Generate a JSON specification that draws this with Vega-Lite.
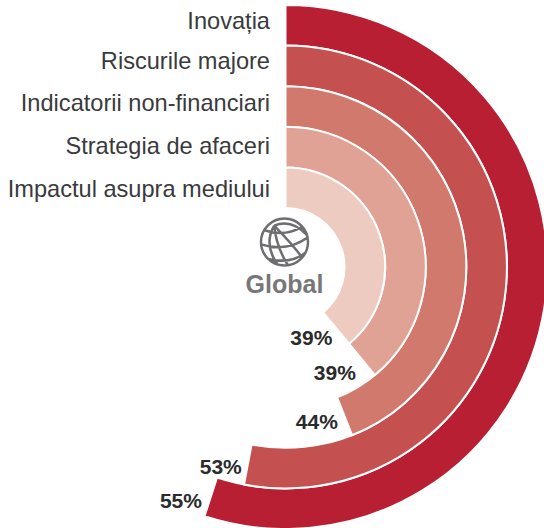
{
"$schema":"https://vega.github.io/schema/vega-lite/v6.json",
"width":544,"height":528,"padding":0,"autosize":{"type":"none"},
"background":"white",
"config":{"view":{"stroke":null}},
"data":{"values":[
{"name":"Inovația","share":55,"ring":5,"ringInner":4,"pctAt":56.7,"pctRing":4.88},
{"name":"Riscurile majore","share":53,"ring":4,"ringInner":3,"pctAt":55,"pctRing":3.75},
{"name":"Indicatorii non-financiari","share":44,"ring":3,"ringInner":2,"pctAt":46.9,"pctRing":2.47},
{"name":"Strategia de afaceri","share":39,"ring":2,"ringInner":1,"pctAt":43.2,"pctRing":1.45},
{"name":"Impactul asupra mediului","share":39,"ring":1,"ringInner":0,"pctAt":44.6,"pctRing":0.42}
]},
"transform":[{"calculate":"datum.share + '%'","as":"pct"}],
"layer":[
{"mark":{"type":"arc","stroke":"white","strokeWidth":2},
 "encoding":{
  "x":{"datum":0,"type":"quantitative","scale":{"domain":[-285.5,258.5],"range":[0,544]},"axis":null},
  "y":{"datum":0,"type":"quantitative","scale":{"domain":[267,-261],"range":[0,528]},"axis":null},
  "theta":{"field":"share","type":"quantitative","stack":null,"scale":{"domain":[0,100],"range":[0,6.283185]}},
  "theta2":{"datum":0},
  "radius":{"field":"ring","type":"quantitative","scale":{"type":"linear","domain":[0,5],"range":[59,262],"zero":false}},
  "radius2":{"field":"ringInner"},
  "color":{"field":"name","type":"nominal","legend":null,"scale":{"domain":["Inovația","Riscurile majore","Indicatorii non-financiari","Strategia de afaceri","Impactul asupra mediului"],"range":["#b81f32","#c4514f","#d0796c","#e0a294","#eecbc1"]}}
 }},
{"mark":{"type":"text","align":"center","baseline":"middle","font":"Liberation Sans","fontWeight":"bold","fontSize":21,"color":"#2b2b2b"},
 "encoding":{
  "x":{"datum":0.5,"type":"quantitative","scale":{"domain":[-285.5,258.5],"range":[0,544]},"axis":null},
  "y":{"datum":0,"type":"quantitative","scale":{"domain":[267,-261],"range":[0,528]},"axis":null},
  "theta":{"field":"pctAt","type":"quantitative","stack":null,"scale":{"domain":[0,100],"range":[0,6.283185]}},
  "radius":{"field":"pctRing","type":"quantitative","scale":{"type":"linear","domain":[0,5],"range":[59,262],"zero":false}},
  "text":{"field":"pct"}
 }},
{"mark":{"type":"text","align":"right","baseline":"middle","font":"Liberation Sans","fontSize":23.6,"color":"#3a3a3c"},
 "encoding":{
  "x":{"datum":-15.5,"type":"quantitative","scale":{"domain":[-285.5,258.5],"range":[0,544]},"axis":null},
  "y":{"field":"ring","type":"quantitative","scale":{"type":"linear","domain":[1,2,3,4,5],"range":[190,147,104,62,22],"zero":false},"axis":null},
  "text":{"field":"name"}
 }},
{"data":{"values":[{"label":"Global"}]},
 "mark":{"type":"text","align":"center","baseline":"middle","font":"Liberation Sans","fontWeight":"bold","fontSize":25,"color":"#77777a"},
 "encoding":{
  "x":{"datum":-1,"type":"quantitative","scale":{"domain":[-285.5,258.5],"range":[0,544]},"axis":null},
  "y":{"datum":-18,"type":"quantitative","scale":{"domain":[267,-261],"range":[0,528]},"axis":null},
  "text":{"field":"label"}
 }},
{"data":{"values":[{"label":"globe"}]},
 "mark":{"type":"point","filled":false,"stroke":"#6e6e70","strokeWidth":2.5,"size":2209,"opacity":1,
  "shape":"M -1 0 A 1 1 0 1 1 1 0 A 1 1 0 1 1 -1 0 Z M -0.44 -0.7 Q -0.9 0.1 -0.3 0.95 M -0.44 -0.7 Q -0.35 0.2 0.15 1 M -0.44 -0.7 Q 0.25 0 0.75 0.65 M -0.44 -0.7 Q 0.3 -1 0.95 -0.3 M -0.85 -0.5 Q 0 -0.2 0.75 -0.65 M -1 0.1 Q 0.1 0.45 1 -0.2 M -0.7 0.72 Q 0.3 0.95 0.9 0.45"},
 "encoding":{
  "x":{"datum":-1,"type":"quantitative","scale":{"domain":[-285.5,258.5],"range":[0,544]},"axis":null},
  "y":{"datum":25,"type":"quantitative","scale":{"domain":[267,-261],"range":[0,528]},"axis":null}
 }}
],
"resolve":{"scale":{"y":"independent","color":"independent"}}
}
